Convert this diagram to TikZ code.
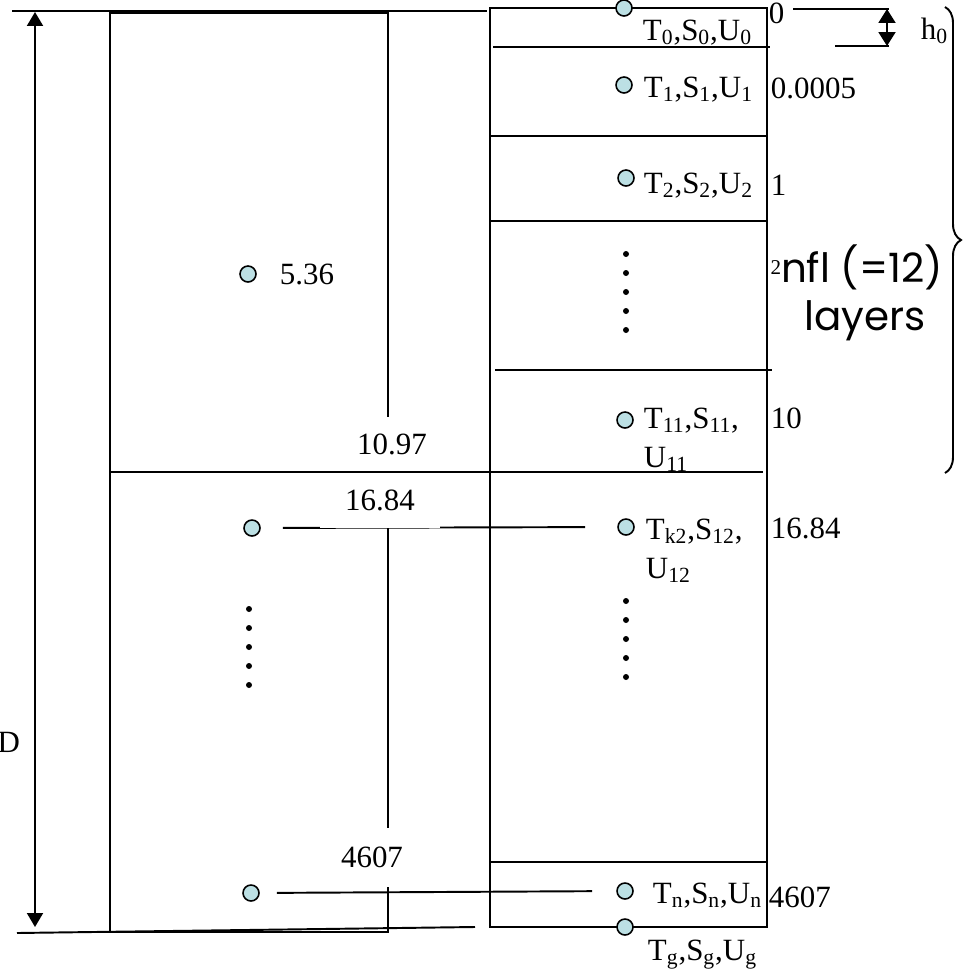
\documentclass[tikz,border=0pt]{standalone}
\usepackage{fontspec}
\setmainfont{Liberation Serif}
\newfontfamily\comicfont{Poppins}
\usetikzlibrary{arrows.meta,decorations.pathreplacing}
\definecolor{pale}{RGB}{188,224,228}
\begin{document}
\begin{tikzpicture}[x=0.02cm, y=-0.02cm, line width=1.1pt,
  probe/.style={circle, draw, line width=0.9pt, fill=pale, inner sep=0pt, minimum size=0.32cm},
  dotmark/.style={circle, fill=black, inner sep=0pt, minimum size=0.12cm},
  val/.style={font=\fontsize{17.6}{22}\selectfont, inner sep=0pt},
  cover/.style={val, fill=white, minimum width=2.4cm, minimum height=1.1cm},
  big/.style={font=\comicfont\fontsize{23}{27}\selectfont, inner sep=0pt}]
\useasboundingbox (0,0) rectangle (963,970);
\draw (110,13) rectangle (388,932);
\draw (490,8) rectangle (767,927);
\draw (12,11) -- (487,11);
\draw (17,933) -- (475,927);
\draw (493,47) -- (770,47);
\draw (490,136) -- (767,136);
\draw (490,221) -- (767,221);
\draw (495,370) -- (772,370);
\draw (490,862) -- (767,862);
\draw (793,9) -- (889,9);
\draw (835,46) -- (889,46);
\coordinate (dtop) at (35,12);
\coordinate (dbot) at (35,927);
\coordinate (htop) at (887,9);
\coordinate (hbot) at (887,46);
\coordinate (btop) at (945,7);
\coordinate (bbot) at (945,473);
\draw[{Triangle[width=0.32cm,length=0.28cm]}-{Triangle[width=0.32cm,length=0.28cm]}] (dtop) -- (dbot);
\draw[{Triangle[width=0.34cm,length=0.28cm]}-{Triangle[width=0.34cm,length=0.28cm]}] (htop) -- (hbot);
\draw[decorate, decoration={brace, amplitude=0.32cm}] (btop) -- (bbot);
\node[probe] (p0) at (624,8) {};
\node[probe] (p1) at (624,85) {};
\node[probe] (p2) at (626,178) {};
\node[probe] (p11) at (625,420) {};
\node[probe] (pk) at (626,527) {};
\node[probe] (pn) at (625,891) {};
\node[probe] (pg) at (625,927) {};
\node[probe] (q1) at (248,274) {};
\node[probe] (q2) at (252,528) {};
\node[probe] (qn) at (251,893) {};
\foreach \y in {254,273,292,311,330} \node[dotmark] (du\y) at (626,\y) {};
\foreach \y in {601,620,639,658,677} \node[dotmark] (dl\y) at (626,\y) {};
\foreach \y in {609,628,647,666,685} \node[dotmark] (dq\y) at (249,\y) {};
\draw[shorten <=0.44cm, shorten >=0.64cm] (q2) -- (pk);
\draw[shorten <=0.34cm, shorten >=0.48cm] (qn) -- (pn);
\node[val, anchor=base west] (t0) at (642,40) {T\textsubscript{0},S\textsubscript{0},U\textsubscript{0}};
\node[val, anchor=base west] (t1) at (643,97) {T\textsubscript{1},S\textsubscript{1},U\textsubscript{1}};
\node[val, anchor=base west] (t2) at (643,193) {T\textsubscript{2},S\textsubscript{2},U\textsubscript{2}};
\node[val, anchor=base west, align=left] (t11) at (643,467) {T\textsubscript{11},S\textsubscript{11},\\U\textsubscript{11}};
\node[val, anchor=base west, align=left] (tk) at (645,578) {T\textsubscript{k2},S\textsubscript{12},\\U\textsubscript{12}};
\node[val, anchor=base west] (tn) at (652,903) {T\textsubscript{n},S\textsubscript{n},U\textsubscript{n}};
\node[val, anchor=base west] (tg) at (647,960) {T\textsubscript{g},S\textsubscript{g},U\textsubscript{g}};
\node[val, anchor=west] (v0) at (768,13) {0};
\node[val, anchor=west] (v1) at (770,88) {0.0005};
\node[val, anchor=west] (v2) at (770,185) {1};
\node[val, anchor=west] (v10) at (770,418) {10};
\node[val, anchor=west] (v12) at (770,528) {16.84};
\node[val, anchor=west] (vn) at (768,897) {4607};
\node[val, anchor=west] (v536) at (279,274) {5.36};
\node[val, anchor=base west] (h0) at (920,39) {h\textsubscript{0}};
\node[val, anchor=east] (dlab) at (21,742) {D};
\node[font=\fontsize{12}{12}\selectfont, inner sep=0pt] (sup2) at (776,268) {2};
\node[big, anchor=base] (nfl) at (862,282) {nfl (=12)};
\node[big, anchor=base] (lay) at (865,330) {layers};
\node[cover] (c1097) at (392,444) {10.97};
\node[cover] (c1684) at (380,500) {16.84};
\node[cover, minimum width=2cm, minimum height=1.18cm] (c4607) at (372,857) {4607};
\draw (110,472) -- (763,472);
\end{tikzpicture}
\end{document}
